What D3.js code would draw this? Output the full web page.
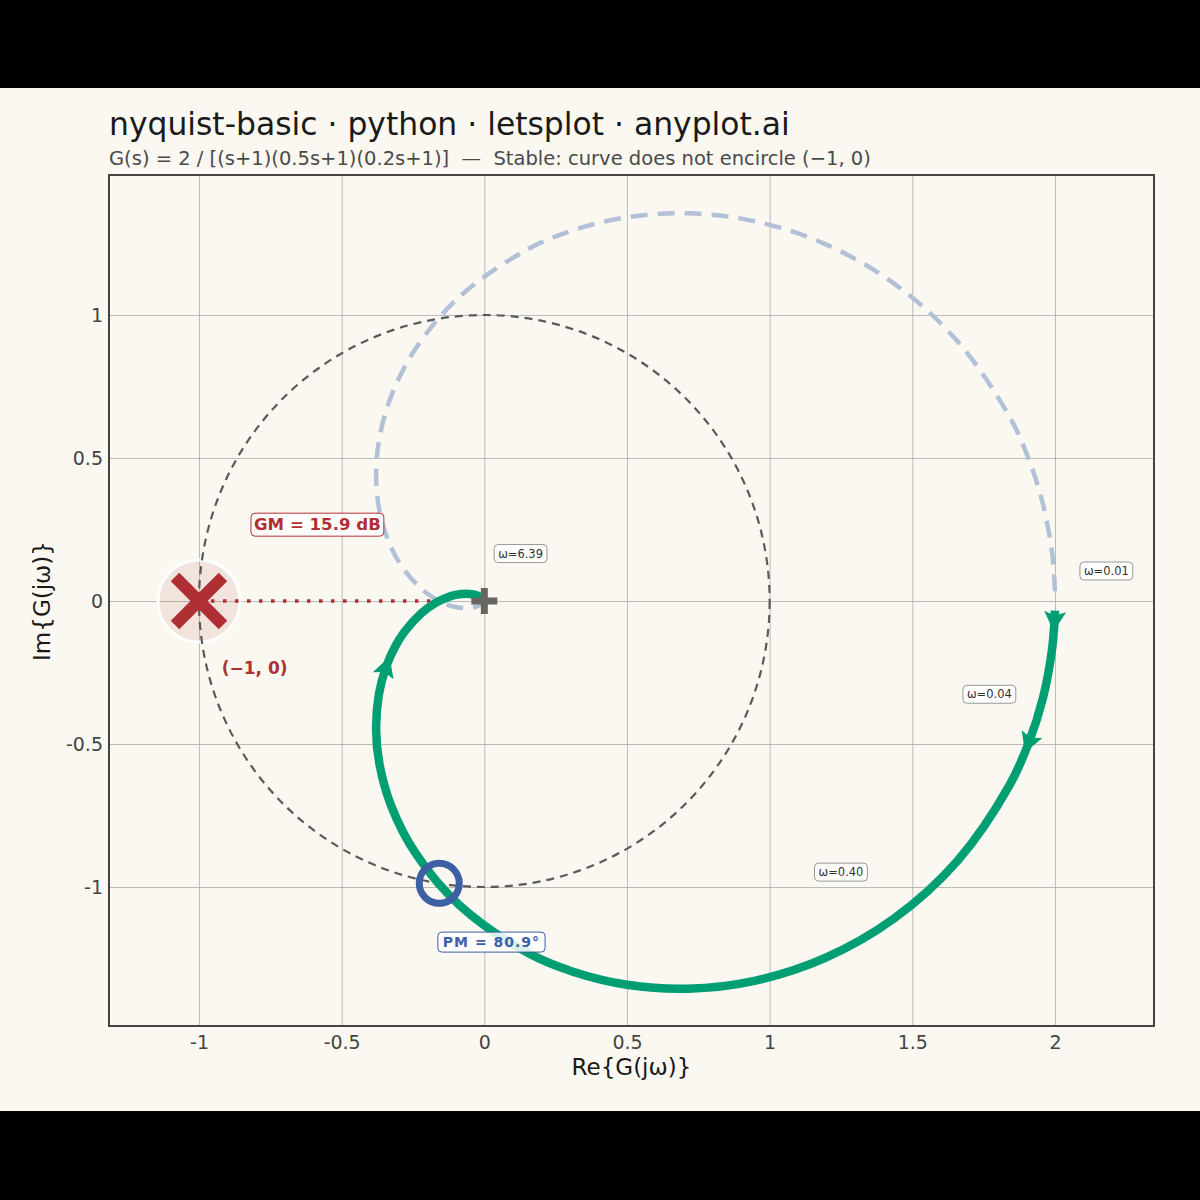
<!DOCTYPE html>
<html>
<head>
<meta charset="utf-8">
<script src="https://cdn.jsdelivr.net/npm/d3@7"></script>
<style>
  html, body { margin: 0; padding: 0; background: #000; }
  svg { display: block; font-family: "DejaVu Sans", sans-serif; }
</style>
</head>
<body>
<div id="chart"></div>
<script>
// 周波数応答の値 (図から読んだもの)
var omega = [0.01, 0.02, 0.05, 0.1, 0.15, 0.2, 0.3, 0.4, 0.5, 0.6, 0.7, 0.8, 0.9, 1.0, 1.2, 1.4, 1.6, 1.8, 2.0, 2.25, 2.5, 2.75, 3.0, 3.5, 4.0, 4.5, 5, 6, 7, 8, 10, 12, 15, 20, 30, 50];
var reG = [1.9997, 1.9983, 1.9896, 1.9587, 1.9083, 1.8402, 1.6593, 1.4364, 1.1928, 0.9470, 0.7131, 0.5002, 0.3133, 0.1538, -0.0866, -0.2388, -0.3257, -0.3673, -0.3793, -0.3693, -0.3445, -0.3133, -0.2805, -0.2194, -0.1693, -0.1304, -0.1008, -0.0616, -0.0390, -0.0255, -0.0120, -0.0063, -0.0028, -0.0009, -0.0002, 0.0000];
var imG = [-0.0340, -0.0680, -0.1694, -0.3355, -0.4949, -0.6448, -0.9071, -1.1096, -1.2487, -1.3279, -1.3554, -1.3416, -1.2969, -1.2308, -1.0641, -0.8854, -0.7179, -0.5714, -0.4483, -0.3252, -0.2315, -0.1610, -0.1086, -0.0415, -0.0057, 0.0125, 0.0212, 0.0253, 0.0228, 0.0191, 0.0126, 0.0084, 0.0048, 0.0022, 0.0007, 0.0002];

// 矢印を置く周波数
var arrowOmega = [0.02, 0.15, 2.5];

// 周波数ラベル (ラベル位置は実軸・虚軸の値)
var freqLabels = ['ω=6.39', 'ω=0.01', 'ω=0.04', 'ω=0.40'];
var freqLabelRe = [0.127, 2.18, 1.77, 1.25];
var freqLabelIm = [0.166, 0.105, -0.326, -0.948];

// 目盛り
var xTicks = [-1, -0.5, 0, 0.5, 1, 1.5, 2];
var yTicks = [-1, -0.5, 0, 0.5, 1];

// 安定余裕
var criticalPoint = [-1, 0];
var phaseCrossRe = -0.1587;
var gmText = 'GM = 15.9 dB';
var pmPoint = [-0.158, -0.987];
var pmText = 'PM = 80.9°';

var width = 1200;
var height = 1200;
var margin = { top: 175, right: 46, bottom: 174, left: 109 };
var w = width - margin.left - margin.right;
var h = height - margin.top - margin.bottom;

var bg = '#faf8f1';
var green = '#009e73';
var red = '#b02f35';
var blue = '#3d5fa3';

var svg = d3.select('#chart').append('svg')
  .attr('width', width)
  .attr('height', height);

// 背景と上下の黒帯
svg.append('rect').attr('width', width).attr('height', height).style('fill', bg);
svg.append('rect').attr('width', width).attr('height', 88).style('fill', '#000');
svg.append('rect').attr('y', 1111).attr('width', width).attr('height', 89).style('fill', '#000');

// タイトル
svg.append('text')
  .attr('x', 109).attr('y', 135)
  .style('font-size', '31.4px').style('fill', '#1a1a1a')
  .text('nyquist-basic · python · letsplot · anyplot.ai');
svg.append('text')
  .attr('x', 109).attr('y', 165)
  .style('font-size', '19.5px').style('fill', '#4a4a4a')
  .style('white-space', 'pre')
  .text('G(s) = 2 / [(s+1)(0.5s+1)(0.2s+1)]  —  Stable: curve does not encircle (−1, 0)');

var xScale = d3.scaleLinear().domain([-1.3154, 2.347]).range([0, w]);
var yScale = d3.scaleLinear().domain([-1.486, 1.4895]).range([h, 0]);

var g = svg.append('g')
  .attr('transform', 'translate(' + margin.left + ',' + margin.top + ')');

g.append('defs').append('clipPath').attr('id', 'clip')
  .append('rect').attr('width', w).attr('height', h);

// グリッド
var xGrid = d3.axisBottom(xScale).tickValues(xTicks).tickSize(-h).tickFormat('');
var yGrid = d3.axisLeft(yScale).tickValues(yTicks).tickSize(-w).tickFormat('');
g.append('g').attr('class', 'grid').attr('transform', 'translate(0,' + h + ')').call(xGrid);
g.append('g').attr('class', 'grid').call(yGrid);
g.selectAll('.grid .domain').remove();
g.selectAll('.grid line').style('stroke', '#a9a9a9').style('stroke-width', 0.8);

// 軸の目盛りラベル
var xaxis = d3.axisBottom(xScale).tickValues(xTicks).tickSize(0).tickPadding(10)
  .tickFormat(function(d) { return String(d); });
var yaxis = d3.axisLeft(yScale).tickValues(yTicks).tickSize(0).tickPadding(6)
  .tickFormat(function(d) { return String(d); });
var xa = g.append('g').attr('transform', 'translate(0,' + h + ')').call(xaxis);
var ya = g.append('g').call(yaxis);
xa.select('.domain').remove();
ya.select('.domain').remove();
xa.selectAll('text').style('font-size', '19px').style('fill', '#444').style('font-family', '"DejaVu Sans", sans-serif');
ya.selectAll('text').style('font-size', '19px').style('fill', '#444').style('font-family', '"DejaVu Sans", sans-serif');

// 軸タイトル
svg.append('text')
  .attr('x', margin.left + w / 2).attr('y', 1075)
  .attr('text-anchor', 'middle')
  .style('font-size', '23px').style('fill', '#1a1a1a')
  .text('Re{G(jω)}');
svg.append('text')
  .attr('transform', 'translate(50,' + (margin.top + yScale(0)) + ') rotate(-90)')
  .attr('text-anchor', 'middle')
  .style('font-size', '23px').style('fill', '#1a1a1a')
  .text('Im{G(jω)}');

var plot = g.append('g').attr('clip-path', 'url(#clip)');

var pts = omega.map(function(d, i) { return [reG[i], imG[i]]; });
var mirror = omega.map(function(d, i) { return [reG[i], -imG[i]]; });

var line = d3.line()
  .x(function(d) { return xScale(d[0]); })
  .y(function(d) { return yScale(d[1]); })
  .curve(d3.curveCatmullRom.alpha(0.5));

// 臨界点の淡い円
plot.append('circle')
  .attr('cx', xScale(criticalPoint[0])).attr('cy', yScale(criticalPoint[1]))
  .attr('r', 41)
  .style('fill', 'rgba(176,47,53,0.10)')
  .style('stroke', '#fff').style('stroke-width', 3);

// 単位円
plot.append('ellipse')
  .attr('cx', xScale(0)).attr('cy', yScale(0))
  .attr('rx', xScale(1) - xScale(0)).attr('ry', yScale(0) - yScale(1))
  .style('fill', 'none').style('stroke', '#5a5a5a')
  .style('stroke-width', 2.2).style('stroke-dasharray', '8 6');

// 負の周波数 (鏡像)
plot.append('path')
  .datum(mirror)
  .attr('d', line)
  .style('fill', 'none').style('stroke', '#b2c1d6')
  .style('stroke-width', 4.5).style('stroke-dasharray', '17 10');

// ゲイン余裕の点線
plot.append('line')
  .attr('x1', xScale(criticalPoint[0])).attr('y1', yScale(0))
  .attr('x2', xScale(phaseCrossRe)).attr('y2', yScale(0))
  .style('stroke', red).style('stroke-width', 3.5)
  .style('stroke-dasharray', '3.5 8.5');

// 臨界点の×
var cx = xScale(criticalPoint[0]);
var cy = yScale(criticalPoint[1]);
var xs = 24;
plot.append('path')
  .attr('d', 'M' + (cx - xs) + ',' + (cy - xs) + 'L' + (cx + xs) + ',' + (cy + xs) +
    'M' + (cx - xs) + ',' + (cy + xs) + 'L' + (cx + xs) + ',' + (cy - xs))
  .style('stroke', red).style('stroke-width', 12);

// ナイキスト線図
plot.append('path')
  .datum(pts)
  .attr('d', line)
  .style('fill', 'none').style('stroke', green)
  .style('stroke-width', 8.5).style('stroke-linecap', 'butt');

// 方向の矢印
arrowOmega.forEach(function(om) {
  var i = omega.indexOf(om);
  var p = [xScale(reG[i]), yScale(imG[i])];
  var a = [xScale(reG[i - 1]), yScale(imG[i - 1])];
  var b = [xScale(reG[i + 1]), yScale(imG[i + 1])];
  var ang = Math.atan2(b[1] - a[1], b[0] - a[0]) * 180 / Math.PI;
  plot.append('path')
    .attr('d', 'M11,0L-9,-11L-5,0L-9,11Z')
    .attr('transform', 'translate(' + p[0] + ',' + p[1] + ') rotate(' + ang + ')')
    .style('fill', green);
});

// 原点の＋
var ox = xScale(0);
var oy = yScale(0);
plot.append('path')
  .attr('d', 'M' + (ox - 13) + ',' + oy + 'H' + (ox + 13) + 'M' + ox + ',' + (oy - 13) + 'V' + (oy + 13))
  .style('stroke', '#676760').style('stroke-width', 7);

// 位相余裕の円
plot.append('circle')
  .attr('cx', xScale(pmPoint[0])).attr('cy', yScale(pmPoint[1]))
  .attr('r', 20)
  .style('fill', 'none').style('stroke', blue).style('stroke-width', 7);

// ラベル付きの箱
function boxLabel(x, y, text, opts) {
  var lg = plot.append('g').attr('transform', 'translate(' + x + ',' + y + ')');
  var t = lg.append('text')
    .attr('text-anchor', 'middle').attr('dy', '0.35em')
    .style('font-size', opts.size + 'px')
    .style('font-weight', opts.bold ? 'bold' : 'normal')
    .style('letter-spacing', (opts.spacing || 0) + 'px')
    .style('fill', opts.color)
    .text(text);
  var bb = t.node().getBBox();
  lg.insert('rect', 'text')
    .attr('x', bb.x - opts.padX).attr('y', bb.y - opts.padY)
    .attr('width', bb.width + 2 * opts.padX).attr('height', bb.height + 2 * opts.padY)
    .attr('rx', 4)
    .style('fill', 'rgba(255,255,255,0.85)')
    .style('stroke', opts.border).style('stroke-width', 1);
}

boxLabel(xScale(-0.585), yScale(0.268), gmText,
  { size: 16.6, bold: true, color: red, border: red, padX: 3, padY: 2 });
boxLabel(xScale(0.025), yScale(-1.193), pmText,
  { size: 14, bold: true, spacing: 1, color: blue, border: blue, padX: 5, padY: 2 });

freqLabels.forEach(function(d, i) {
  boxLabel(xScale(freqLabelRe[i]), yScale(freqLabelIm[i]), d,
    { size: 11.5, color: '#333', border: '#999', padX: 4, padY: 2 });
});

// 臨界点のラベル
plot.append('text')
  .attr('x', xScale(-0.805)).attr('y', yScale(-0.255))
  .attr('text-anchor', 'middle')
  .style('font-size', '17px').style('font-weight', 'bold').style('fill', red)
  .text('(−1, 0)');

// 枠
g.append('rect')
  .attr('width', w).attr('height', h)
  .style('fill', 'none').style('stroke', '#444').style('stroke-width', 2);
</script>
</body>
</html>
